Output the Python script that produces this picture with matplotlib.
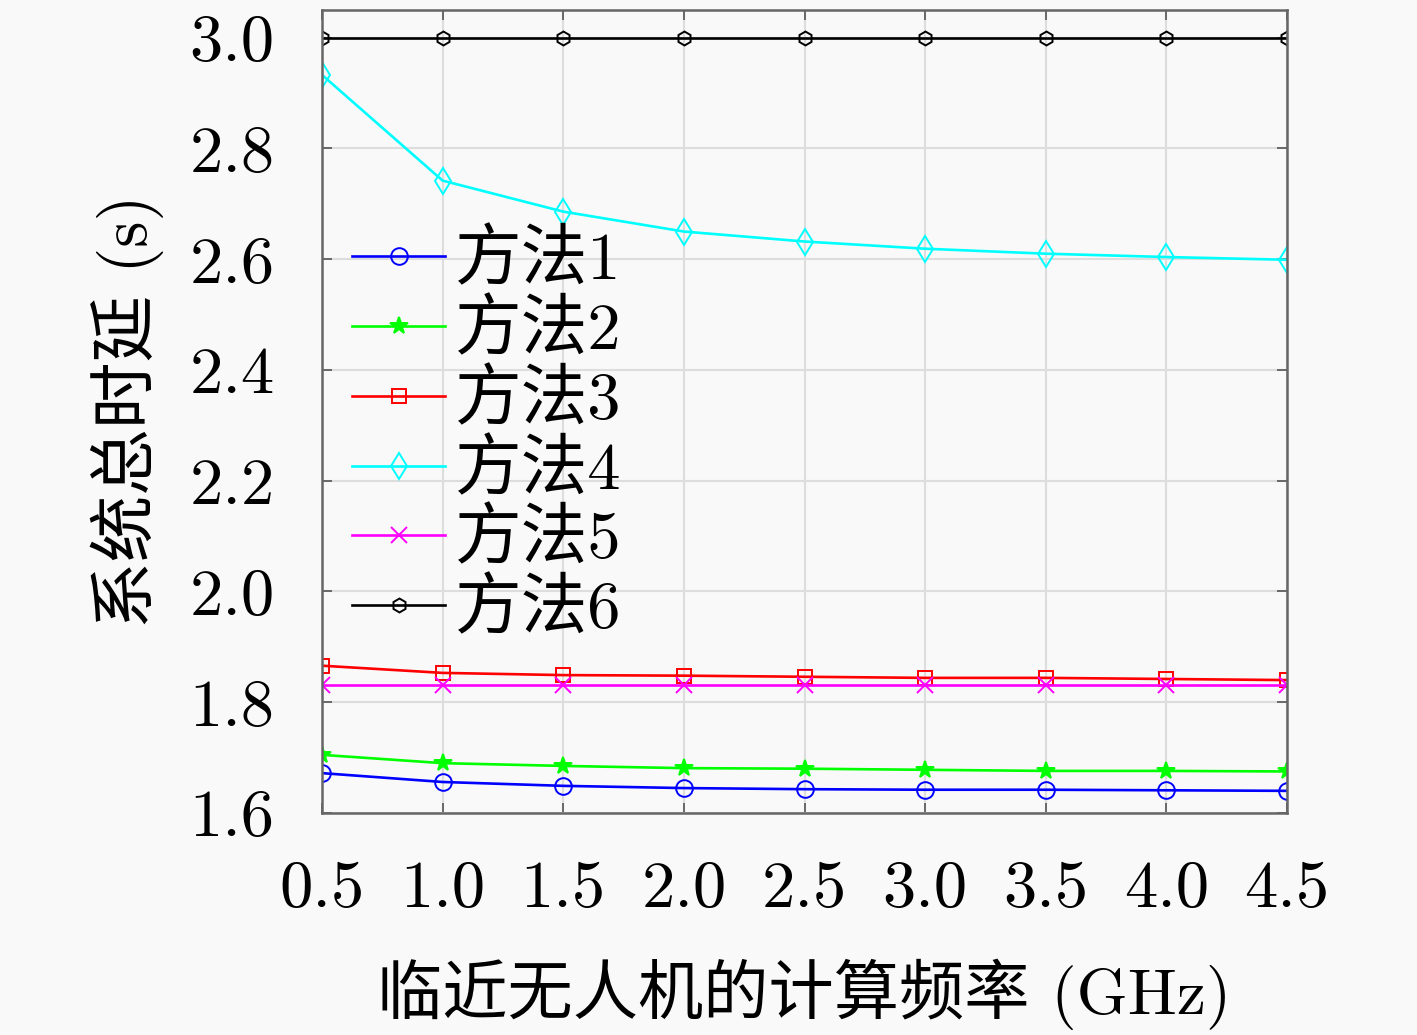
import matplotlib
matplotlib.use("Agg")
import matplotlib.pyplot as plt

# x: computing frequency of nearby UAV (GHz)
freq = [0.5, 1.0, 1.5, 2.0, 2.5, 3.0, 3.5, 4.0, 4.5]

# total system delay (s) per method
m1 = [1.672, 1.656, 1.649, 1.645, 1.643, 1.642, 1.642, 1.641, 1.640]
m2 = [1.705, 1.690, 1.685, 1.681, 1.680, 1.678, 1.676, 1.676, 1.675]
m3 = [1.866, 1.853, 1.849, 1.848, 1.846, 1.844, 1.844, 1.842, 1.840]
m4 = [2.933, 2.742, 2.686, 2.650, 2.632, 2.619, 2.610, 2.604, 2.599]
m5 = [1.831, 1.831, 1.831, 1.831, 1.831, 1.831, 1.831, 1.831, 1.831]
m6 = [3.0, 3.0, 3.0, 3.0, 3.0, 3.0, 3.0, 3.0, 3.0]

labels = ["方法1", "方法2", "方法3", "方法4", "方法5", "方法6"]
xticks = [0.5, 1.0, 1.5, 2.0, 2.5, 3.0, 3.5, 4.0, 4.5]
yticks = [1.6, 1.8, 2.0, 2.2, 2.4, 2.6, 2.8, 3.0]

plt.rcParams['font.family'] = ['cmr10', 'Noto Sans CJK SC']
plt.rcParams['axes.formatter.use_mathtext'] = True

fig = plt.figure(figsize=(14.17, 10.35), dpi=100, facecolor='#f9f9f9')
ax = fig.add_axes([0.2272, 0.2145, 0.6811, 0.7758])
ax.set_facecolor('#f9f9f9')

styles = [
    dict(color='#0000ff', marker='o', mfc='none', ms=12),
    dict(color='#00ff00', marker='*', ms=13),
    dict(color='#ff0000', marker='s', mfc='none', ms=10),
    dict(color='#00ffff', marker='d', mfc='none', ms=13),
    dict(color='#ff00ff', marker='x', ms=11),
    dict(color='#000000', marker='h', mfc='none', ms=10),
]
for ys, lab, st in zip([m1, m2, m3, m4, m5, m6], labels, styles):
    ax.plot(freq, ys, label=lab, lw=1.9, mew=1.4, **st)

ax.set_xlim(0.5, 4.5)
ax.set_ylim(1.6, 3.05)
ax.set_xticks(xticks)
ax.set_yticks(yticks)
ax.set_xticklabels([f"{v:.1f}" for v in xticks])
ax.set_yticklabels([f"{v:.1f}" for v in yticks])
ax.grid(True, color='#dddddd', lw=1.5)
ax.set_axisbelow(True)
ax.tick_params(direction='in', top=True, right=True, length=7, width=1.2,
               color='#555555', labelsize=48)
ax.tick_params(axis='x', pad=34)
ax.tick_params(axis='y', pad=34)
for sp in ax.spines.values():
    sp.set_color('#666666')
    sp.set_linewidth(1.8)

ax.set_xlabel("临近无人机的计算频率 (GHz)", fontsize=47, labelpad=28)
ax.set_ylabel("系统总时延 (s)", fontsize=48, labelpad=18)

ax.legend(loc='upper left', bbox_to_anchor=(352 / 1417, 1 - 230 / 1035),
          bbox_transform=fig.transFigure, frameon=False, fontsize=48,
          handlelength=1.4, handletextpad=0.15, labelspacing=0.11,
          borderaxespad=0, borderpad=0)

fig.savefig("out.png", dpi=100, facecolor=fig.get_facecolor())
